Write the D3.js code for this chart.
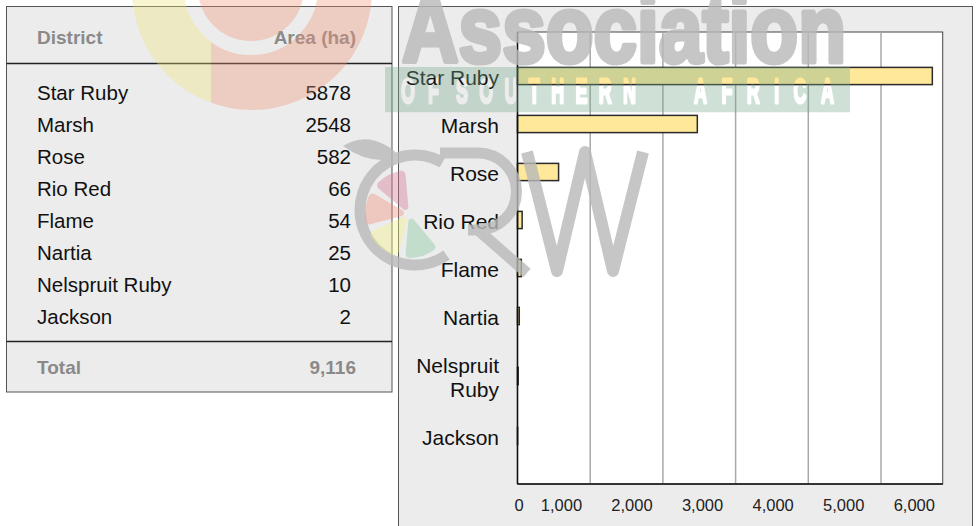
<!DOCTYPE html>
<html>
<head>
<meta charset="utf-8">
<script src="https://cdn.jsdelivr.net/npm/d3@7"></script>
<style>
  html, body { margin: 0; padding: 0; background: #fff; }
  svg { display: block; }
</style>
</head>
<body>
<svg id="chart" width="979" height="526"></svg>
<script>
// Grapefruit plantings by cultivar
const districts = ["Star Ruby", "Marsh", "Rose", "Rio Red", "Flame", "Nartia", "Nelspruit Ruby", "Jackson"];
const areaHa = [5878, 2548, 582, 66, 54, 25, 10, 2];
const tableHeaders = ["District", "Area (ha)"];
const totalLabel = ["Total", "9,116"];
const xTicks = [0, 1000, 2000, 3000, 4000, 5000, 6000];
const gridValues = [1000, 2000, 3000, 4000, 5000];

const svg = d3.select("#chart");
const bodyFont = "'Liberation Sans', Arial, Helvetica, sans-serif";

/* ---------- table panel ---------- */
const table = svg.append("g");
table.append("rect")
  .attr("x", 6.5).attr("y", 6.5).attr("width", 385.5).attr("height", 385.5)
  .attr("fill", "#ececec").attr("stroke", "#555").attr("stroke-width", 1);

const colLeft = 37, colRight = 356;
table.append("text").attr("x", colLeft).attr("y", 43.5)
  .attr("font-family", bodyFont).attr("font-weight", "bold").attr("font-size", 19)
  .attr("fill", "#8a8a8a").text(tableHeaders[0]);
table.append("text").attr("x", colRight).attr("y", 43.5).attr("text-anchor", "end")
  .attr("font-family", bodyFont).attr("font-weight", "bold").attr("font-size", 19)
  .attr("fill", "#8a8a8a").text(tableHeaders[1]);
table.append("line").attr("x1", 6.5).attr("x2", 392).attr("y1", 63.5).attr("y2", 63.5)
  .attr("stroke", "#222").attr("stroke-width", 1.5);

const rowY = d3.scalePoint().domain(districts).range([99.5, 323.5]);
const rows = table.selectAll("g.row").data(districts.map((d, i) => ({ name: d, value: areaHa[i] })))
  .join("g").attr("class", "row");
rows.append("text").attr("x", colLeft).attr("y", d => rowY(d.name))
  .attr("font-family", bodyFont).attr("font-size", 20.5).attr("fill", "#111")
  .text(d => d.name);
rows.append("text").attr("x", colRight - 5).attr("y", d => rowY(d.name)).attr("text-anchor", "end")
  .attr("font-family", bodyFont).attr("font-size", 20.5).attr("fill", "#111")
  .text(d => d.value);

table.append("line").attr("x1", 6.5).attr("x2", 392).attr("y1", 341.5).attr("y2", 341.5)
  .attr("stroke", "#222").attr("stroke-width", 1.5);
table.append("text").attr("x", colLeft).attr("y", 373.5)
  .attr("font-family", bodyFont).attr("font-weight", "bold").attr("font-size", 19)
  .attr("fill", "#8a8a8a").text(totalLabel[0]);
table.append("text").attr("x", colRight).attr("y", 373.5).attr("text-anchor", "end")
  .attr("font-family", bodyFont).attr("font-weight", "bold").attr("font-size", 19)
  .attr("fill", "#8a8a8a").text(totalLabel[1]);

/* ---------- chart panel ---------- */
const panel = svg.append("g");
panel.append("rect")
  .attr("x", 398.5).attr("y", 6.5).attr("width", 574).attr("height", 530)
  .attr("fill", "#ececec").attr("stroke", "#555").attr("stroke-width", 1);

const plot = { left: 517.5, right: 942.7, top: 32, bottom: 484 };
const x = d3.scaleLinear().domain([0, 6025]).range([plot.left, plot.right]);
const gridX = d3.scaleLinear().domain([0, 5000]).range([plot.left, 881]);

panel.append("rect")
  .attr("x", plot.left).attr("y", plot.top)
  .attr("width", plot.right - plot.left).attr("height", plot.bottom - plot.top)
  .attr("fill", "#fff").attr("stroke", "#444").attr("stroke-width", 1);

panel.selectAll("line.grid").data(gridValues).join("line").attr("class", "grid")
  .attr("x1", d => gridX(d)).attr("x2", d => gridX(d))
  .attr("y1", plot.top).attr("y2", plot.bottom)
  .attr("stroke", "#a8a8a8").attr("stroke-width", 1.5);

// category rows: height grows with the number of wrapped label lines
const labelFontSize = 21;
const measurer = svg.append("text").attr("font-family", bodyFont).attr("font-size", labelFontSize);
function wrapLines(label, maxWidth) {
  measurer.text(label);
  if (measurer.node().getComputedTextLength() <= maxWidth) return [label];
  return label.split(" ");
}
const rowInfo = districts.map((d, i) => ({ name: d, value: areaHa[i], lines: wrapLines(d, 100) }));
measurer.remove();
let cursor = 0;
rowInfo.forEach(r => { r.start = cursor; r.size = 1 + r.lines.length; cursor += r.size; });
const y = d3.scaleLinear().domain([0, 1]).range([plot.top + 20, plot.top + 44]);

const barH = 17.2;
panel.selectAll("rect.bar").data(rowInfo).join("rect").attr("class", "bar")
  .attr("x", x(0))
  .attr("y", d => y(d.start + d.size / 2) - barH / 2)
  .attr("width", d => x(d.value) - x(0))
  .attr("height", barH)
  .attr("fill", "#ffe89a").attr("stroke", "#2a2a2a").attr("stroke-width", 1.5);

const labels = panel.selectAll("text.cat").data(rowInfo).join("text").attr("class", "cat")
  .attr("font-family", bodyFont).attr("font-size", labelFontSize).attr("fill", "#111")
  .attr("text-anchor", "end");
labels.each(function (d) {
  const t = d3.select(this);
  const mid = y(d.start + d.size / 2) + 2;
  d.lines.forEach((ln, k) => {
    t.append("tspan").attr("x", 499)
      .attr("y", mid + (k - (d.lines.length - 1) / 2) * 24)
      .attr("dy", "0.35em").text(ln);
  });
});

// axis lines
panel.append("line").attr("x1", plot.left).attr("x2", plot.left)
  .attr("y1", plot.top).attr("y2", plot.bottom).attr("stroke", "#111").attr("stroke-width", 1.6);
panel.append("line").attr("x1", plot.left).attr("x2", plot.right)
  .attr("y1", plot.bottom).attr("y2", plot.bottom).attr("stroke", "#111").attr("stroke-width", 1.6);

const fmt = d3.format(",");
panel.selectAll("text.tick").data(xTicks).join("text").attr("class", "tick")
  .attr("x", d => d === 0 ? x(d) + 1.5 : x(d) - 6)
  .attr("y", 511)
  .attr("text-anchor", d => d === 0 ? "middle" : "end")
  .attr("font-family", bodyFont).attr("font-size", 16.5).attr("fill", "#222")
  .text(d => fmt(d));

/* ---------- association watermark ---------- */
const defs = svg.append("defs");
const wm = svg.append("g").attr("pointer-events", "none");

// large ring emblem, top left
const ringMask = defs.append("mask").attr("id", "ringMask");
ringMask.append("circle").attr("cx", 252).attr("cy", -10).attr("r", 120).attr("fill", "#fff");
ringMask.append("circle").attr("cx", 251).attr("cy", -12).attr("r", 60)
  .attr("fill", "none").attr("stroke", "#000").attr("stroke-width", 14);
const emblem = wm.append("g").attr("mask", "url(#ringMask)").attr("opacity", 0.35);
emblem.append("rect").attr("x", 120).attr("y", -140).attr("width", 270).attr("height", 260).attr("fill", "#f19377");
emblem.append("rect").attr("x", 120).attr("y", -140).attr("width", 91).attr("height", 260).attr("fill", "#ece67a");
emblem.append("circle").attr("cx", 251).attr("cy", -12).attr("r", 54).attr("fill", "#f19377");

// "Association" lettering, heavy and condensed
wm.append("text").attr("x", 402).attr("y", 62)
  .attr("font-family", bodyFont).attr("font-weight", "bold").attr("font-size", 94)
  .attr("textLength", 444).attr("lengthAdjust", "spacingAndGlyphs")
  .attr("fill", "#b9b9b9").attr("stroke", "#b9b9b9").attr("stroke-width", 5)
  .attr("stroke-linejoin", "round").attr("opacity", 0.8)
  .text("Association");

// knocked-out band "OF SOUTHERN AFRICA"
const squeeze = 0.5;
const bandMask = defs.append("mask").attr("id", "bandMask");
bandMask.append("rect").attr("x", 385).attr("y", 67).attr("width", 465).attr("height", 45.5).attr("fill", "#fff");
[["OF", 401, 38], ["SOUTHERN", 456, 180], ["AFRICA", 694, 140]].forEach(([w, wx, wl]) => {
  bandMask.append("text")
    .attr("transform", `scale(${squeeze},1)`)
    .attr("x", wx / squeeze).attr("y", 103)
    .attr("font-family", bodyFont).attr("font-weight", "bold").attr("font-size", 36)
    .attr("textLength", wl / squeeze).attr("lengthAdjust", "spacing")
    .attr("fill", "#000").attr("stroke", "#000").attr("stroke-width", 3)
    .attr("stroke-linejoin", "round").text(w);
});
wm.append("rect").attr("x", 385).attr("y", 67).attr("width", 465).attr("height", 45.5)
  .attr("fill", "#78aa8c").attr("opacity", 0.35).attr("mask", "url(#bandMask)");

// CRW mark: leaf, citrus ring, slices and thin R W
const gray = "#b9b9b9";
const crw = wm.append("g").attr("opacity", 0.8);
crw.append("path")
  .attr("d", "M343,146 Q372,128 402,158 Q370,166 343,146 Z")
  .attr("fill", gray);
crw.append("path")
  .attr("d", d3.arc()({ innerRadius: 49.5, outerRadius: 60.5,
    startAngle: 145 * Math.PI / 180, endAngle: (360 + 30) * Math.PI / 180 }))
  .attr("transform", "translate(415,210)").attr("fill", gray);
crw.append("path")
  .attr("d", "M440,153 L478,153 A38.5,38.5 0 0 1 478,230 L468,230 M478,230 L527,273")
  .attr("fill", "none").attr("stroke", gray).attr("stroke-width", 11);
crw.append("path")
  .attr("d", "M527,152 L557,271 L585,152 L613,271 L643,152")
  .attr("fill", "none").attr("stroke", gray).attr("stroke-width", 12).attr("stroke-linejoin", "round");

const slices = [
  { a0: 140, a1: 185, c: "#86c99e" },
  { a0: 195, a1: 245, c: "#f6f187" },
  { a0: 255, a1: 300, c: "#f1927e" },
  { a0: 310, a1: 355, c: "#d87992" }
];
const sliceArc = d3.arc().innerRadius(5).outerRadius(44).cornerRadius(4);
wm.append("g").attr("transform", "translate(409,214)").attr("opacity", 0.4)
  .selectAll("path").data(slices).join("path")
  .attr("d", d => sliceArc({ startAngle: d.a0 * Math.PI / 180, endAngle: d.a1 * Math.PI / 180 }))
  .attr("fill", d => d.c);
</script>
</body>
</html>
